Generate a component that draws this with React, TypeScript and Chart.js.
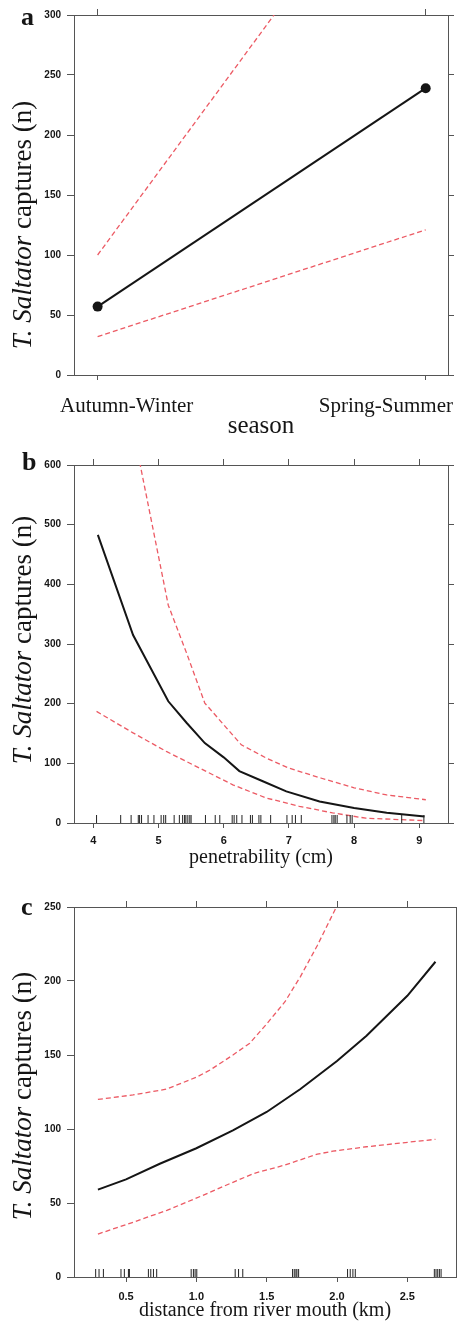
import React, { useEffect, useRef } from 'react';
import { Chart, registerables } from 'chart.js';

Chart.register(...registerables);

const SERIF = "'Liberation Serif', 'Times New Roman', Times, serif";
const SANS = "'Liberation Sans', Arial, Helvetica, sans-serif";
const RED = '#ec5a64';
const FRAME = '#555555';
const INK = '#151515';

// ---------- Panel a: season ----------
const SEASONS = ['Autumn-Winter', 'Spring-Summer'];
const SEASON_POS = [1, 2];
const SEASON_FIT = [57, 239];
const SEASON_UPPER = [100, 472];
const SEASON_LOWER = [32, 121];
const A_Y_TICKS = [0, 50, 100, 150, 200, 250, 300];

// ---------- Panel b: penetrability ----------
const PEN_FIT_X = [4.07, 4.61, 5.15, 5.43, 5.71, 6.0, 6.24, 6.6, 6.96, 7.47, 8.0, 8.5, 9.08];
const PEN_FIT = [483, 315, 204, 168, 134, 110, 87, 70, 53, 36, 25, 17, 11];
const PEN_UP_X = [4.07, 4.61, 5.15, 5.43, 5.71, 6.27, 6.65, 7.0, 7.5, 8.0, 8.5, 9.1];
const PEN_UP = [1150, 660, 365, 285, 201, 131, 109, 92, 75, 59, 47, 39];
const PEN_LO_X = [4.05, 4.61, 5.12, 5.63, 6.14, 6.65, 7.16, 7.67, 8.18, 9.08];
const PEN_LO = [187, 151, 120, 92, 64, 42, 28, 17, 8, 4];
const PEN_RUG = [4.05, 4.42, 4.58, 4.69, 4.71, 4.74, 4.84, 4.93, 5.04, 5.08, 5.11, 5.24, 5.32, 5.37, 5.4, 5.42, 5.45, 5.48, 5.5, 5.72, 5.87, 5.94, 6.13, 6.16, 6.2, 6.28, 6.41, 6.44, 6.54, 6.57, 6.72, 6.97, 7.05, 7.1, 7.19, 7.66, 7.69, 7.71, 7.74, 7.89, 7.94, 7.97, 8.73, 9.07];
const B_X_TICKS = [4, 5, 6, 7, 8, 9];
const B_X_LABELS = ['4', '5', '6', '7', '8', '9'];
const B_Y_TICKS = [0, 100, 200, 300, 400, 500, 600];

// ---------- Panel c: distance from river mouth ----------
const DIST_FIT_X = [0.3, 0.5, 0.74, 1.0, 1.26, 1.5, 1.74, 2.0, 2.21, 2.5, 2.7];
const DIST_FIT = [59, 66, 76.5, 87, 99, 111.5, 127, 146, 163, 190, 213];
const DIST_UP_X = [0.3, 0.55, 0.79, 1.0, 1.1, 1.26, 1.38, 1.5, 1.63, 1.74, 1.86, 1.99, 2.1];
const DIST_UP = [120, 123, 127, 135, 140, 150, 158, 171, 186, 203, 224, 249, 275];
const DIST_LO_X = [0.3, 0.55, 0.79, 1.03, 1.26, 1.41, 1.62, 1.86, 1.97, 2.21, 2.45, 2.7];
const DIST_LO = [29, 37, 45, 54.5, 64, 70, 75.4, 83, 85, 88, 90.5, 93];
const DIST_RUG = [0.284, 0.308, 0.339, 0.464, 0.488, 0.517, 0.524, 0.659, 0.676, 0.695, 0.718, 0.963, 0.979, 0.991, 1.003, 1.276, 1.3, 1.33, 1.684, 1.696, 1.708, 1.715, 1.727, 2.075, 2.094, 2.113, 2.13, 2.692, 2.704, 2.716, 2.728, 2.74];
const C_X_TICKS = [0.5, 1.0, 1.5, 2.0, 2.5];
const C_X_LABELS = ['0.5', '1.0', '1.5', '2.0', '2.5'];
const C_Y_TICKS = [0, 50, 100, 150, 200, 250];

const Y_TITLE_ITALIC = 'T. Saltator';
const Y_TITLE_REST = ' captures (n)';

const zip = (xs: number[], ys: number[]) => xs.map((x, i) => ({ x, y: ys[i] }));

const redLine = (xs: number[], ys: number[]) => ({
  type: 'line',
  data: zip(xs, ys),
  borderColor: RED,
  borderWidth: 1.3,
  borderDash: [5, 3],
  pointRadius: 0,
  tension: 0,
  fill: false,
  clip: 0,
});

const fitLine = (xs: number[], ys: number[], radius = 0) => ({
  type: 'line',
  data: zip(xs, ys),
  borderColor: INK,
  borderWidth: 2,
  pointRadius: radius,
  pointBackgroundColor: INK,
  pointBorderWidth: 0,
  tension: 0,
  fill: false,
  clip: radius ? false : 0,
});

const rug = (xs: number[]) => ({
  type: 'line',
  data: xs.map((x) => ({ x, y: 0 })),
  showLine: false,
  pointStyle: 'line',
  pointRotation: 90,
  pointRadius: 8,
  pointHoverRadius: 8,
  pointBorderColor: '#222',
  pointBorderWidth: 1,
  clip: 0,
});

const decorPlugin = {
  id: 'decor',
  afterDraw(chart: any, _args: any, opts: any) {
    const { ctx, chartArea } = chart;
    ctx.save();
    ctx.fillStyle = INK;
    ctx.textBaseline = 'alphabetic';
    // panel letter
    ctx.font = `bold ${opts.letterSize}px ${SERIF}`;
    ctx.textAlign = 'left';
    ctx.fillText(opts.letter, opts.letterX, opts.letterY);
    // y-axis title with italic species name
    ctx.save();
    ctx.translate(opts.titleX, opts.titleY);
    ctx.rotate(-Math.PI / 2);
    const itFont = `italic ${opts.titleSize}px ${SERIF}`;
    const upFont = `${opts.titleSize}px ${SERIF}`;
    ctx.font = itFont;
    const w1 = ctx.measureText(Y_TITLE_ITALIC).width;
    ctx.font = upFont;
    const w2 = ctx.measureText(Y_TITLE_REST).width;
    const x0 = -(w1 + w2) / 2;
    ctx.textAlign = 'left';
    ctx.font = itFont;
    ctx.fillText(Y_TITLE_ITALIC, x0, 0);
    ctx.font = upFont;
    ctx.fillText(Y_TITLE_REST, x0 + w1, 0);
    ctx.restore();
    // category labels (panel a)
    if (opts.cats) {
      ctx.font = `${opts.cats.size}px ${SERIF}`;
      const labels: string[] = opts.cats.labels;
      labels.forEach((lab, i) => {
        if (i === 0) {
          ctx.textAlign = 'left';
          ctx.fillText(lab, chartArea.left - opts.cats.leftOut, opts.cats.y);
        } else {
          ctx.textAlign = 'right';
          ctx.fillText(lab, chartArea.right + opts.cats.rightOut, opts.cats.y);
        }
      });
    }
    ctx.restore();
  },
};

type Spec = {
  height: number;
  pad: { left: number; right: number; top: number; bottom: number };
  leftW: number;
  rightW: number;
  topH: number;
  bottomH: number;
  xMin: number;
  xMax: number;
  yMax: number;
  xTicks: number[];
  xLabels: string[] | null;
  xTickPad: number;
  yTicks: number[];
  xTitle: string;
  xTitleSize: number;
  xTitlePad: number;
  datasets: any[];
  decor: any;
};

const zeroPad = (sc: any) => {
  sc.paddingLeft = 0;
  sc.paddingRight = 0;
  sc.paddingTop = 0;
  sc.paddingBottom = 0;
};

function makeConfig(s: Spec): any {
  const grid = (tl: number) => ({
    display: true,
    drawOnChartArea: false,
    drawTicks: true,
    tickLength: tl,
    color: FRAME,
    lineWidth: 1,
  });
  const border = { display: true, color: FRAME, width: 1 };
  const setTicks = (vals: number[]) => (scale: any) => {
    scale.ticks = vals.map((v) => ({ value: v }));
  };
  const tickFont = (size: number) => ({ family: SANS, size, weight: 'bold' });
  return {
    type: 'line',
    data: { datasets: s.datasets },
    plugins: [decorPlugin],
    options: {
      animation: false,
      responsive: false,
      events: [],
      layout: { padding: s.pad, autoPadding: false },
      plugins: {
        legend: { display: false },
        tooltip: { enabled: false },
        decor: s.decor,
      },
      scales: {
        x: {
          type: 'linear',
          position: 'bottom',
          min: s.xMin,
          max: s.xMax,
          bounds: 'data',
          afterBuildTicks: setTicks(s.xTicks),
          afterFit: (sc: any) => {
            sc.height = s.bottomH;
            zeroPad(sc);
          },
          grid: grid(5),
          border,
          ticks: {
            display: s.xLabels !== null,
            autoSkip: false,
            maxRotation: 0,
            padding: s.xTickPad,
            color: INK,
            font: tickFont(11),
            callback: (_v: any, i: number) => (s.xLabels ? s.xLabels[i] : ''),
          },
          title: {
            display: true,
            text: s.xTitle,
            color: INK,
            font: { family: SERIF, size: s.xTitleSize },
            padding: { top: 0, bottom: s.xTitlePad },
          },
        },
        x2: {
          type: 'linear',
          axis: 'x',
          position: 'top',
          min: s.xMin,
          max: s.xMax,
          bounds: 'data',
          afterBuildTicks: setTicks(s.xTicks),
          afterFit: (sc: any) => {
            sc.height = s.topH;
            zeroPad(sc);
          },
          grid: grid(6),
          border,
          ticks: { display: false, autoSkip: false },
        },
        y: {
          type: 'linear',
          position: 'left',
          min: 0,
          max: s.yMax,
          bounds: 'data',
          afterBuildTicks: setTicks(s.yTicks),
          afterFit: (sc: any) => {
            sc.width = s.leftW;
            zeroPad(sc);
          },
          grid: grid(7),
          border,
          ticks: {
            autoSkip: false,
            padding: 6,
            color: INK,
            font: tickFont(10),
            callback: (v: any) => String(v),
          },
        },
        y2: {
          type: 'linear',
          axis: 'y',
          position: 'right',
          min: 0,
          max: s.yMax,
          bounds: 'data',
          afterBuildTicks: setTicks(s.yTicks),
          afterFit: (sc: any) => {
            sc.width = s.rightW;
            zeroPad(sc);
          },
          grid: grid(6),
          border,
          ticks: { display: false, autoSkip: false },
        },
      },
    },
  };
}

const decorBase = { letterSize: 26, letterX: 21, titleX: 31, titleSize: 27 };

const SPEC_A: Spec = {
  height: 445,
  pad: { left: 44, right: 3, top: 9, bottom: 2 },
  leftW: 30,
  rightW: 6,
  topH: 6,
  bottomH: 68,
  xMin: 0.928,
  xMax: 2.068,
  yMax: 300,
  xTicks: SEASON_POS,
  xLabels: null,
  xTickPad: 6,
  yTicks: A_Y_TICKS,
  xTitle: 'season',
  xTitleSize: 25,
  xTitlePad: 1.5,
  datasets: [
    redLine(SEASON_POS, SEASON_UPPER),
    redLine(SEASON_POS, SEASON_LOWER),
    fitLine(SEASON_POS, SEASON_FIT, 5),
  ],
  decor: {
    ...decorBase,
    letter: 'a',
    letterY: 25,
    titleY: 225,
    cats: { labels: SEASONS, size: 21, y: 412, leftOut: 14, rightOut: 5 },
  },
};

const SPEC_B: Spec = {
  height: 440,
  pad: { left: 44, right: 3, top: 14, bottom: 12 },
  leftW: 30,
  rightW: 6,
  topH: 6,
  bottomH: 50,
  xMin: 3.704,
  xMax: 9.44,
  yMax: 600,
  xTicks: B_X_TICKS,
  xLabels: B_X_LABELS,
  xTickPad: 6,
  yTicks: B_Y_TICKS,
  xTitle: 'penetrability (cm)',
  xTitleSize: 20,
  xTitlePad: 3,
  datasets: [
    rug(PEN_RUG),
    redLine(PEN_UP_X, PEN_UP),
    redLine(PEN_LO_X, PEN_LO),
    fitLine(PEN_FIT_X, PEN_FIT),
  ],
  decor: { ...decorBase, letter: 'b', letterX: 22, letterY: 25, titleY: 195 },
};

const SPEC_C: Spec = {
  height: 439,
  pad: { left: 44, right: 0, top: 16, bottom: 0 },
  leftW: 30,
  rightW: 1,
  topH: 6,
  bottomH: 47,
  xMin: 0.13,
  xMax: 2.846,
  yMax: 250,
  xTicks: C_X_TICKS,
  xLabels: C_X_LABELS,
  xTickPad: 8,
  yTicks: C_Y_TICKS,
  xTitle: 'distance from river mouth (km)',
  xTitleSize: 20,
  xTitlePad: 1,
  datasets: [
    rug(DIST_RUG),
    redLine(DIST_UP_X, DIST_UP),
    redLine(DIST_LO_X, DIST_LO),
    fitLine(DIST_FIT_X, DIST_FIT),
  ],
  decor: { ...decorBase, letter: 'c', letterY: 30, titleY: 211 },
};

function Panel({ top, spec }: { top: number; spec: Spec }) {
  const ref = useRef<HTMLCanvasElement | null>(null);
  useEffect(() => {
    if (!ref.current) return;
    const chart = new Chart(ref.current, makeConfig(spec));
    return () => chart.destroy();
  }, [spec]);
  return (
    <canvas
      ref={ref}
      width={457}
      height={spec.height}
      style={{ position: 'absolute', left: 0, top, width: 457, height: spec.height, display: 'block' }}
    />
  );
}

export default function App() {
  Chart.defaults.color = INK;
  return (
    <div style={{ position: 'absolute', left: 0, top: 0, width: 457, height: 1324, background: '#ffffff' }}>
      <Panel top={0} spec={SPEC_A} />
      <Panel top={445} spec={SPEC_B} />
      <Panel top={885} spec={SPEC_C} />
    </div>
  );
}
